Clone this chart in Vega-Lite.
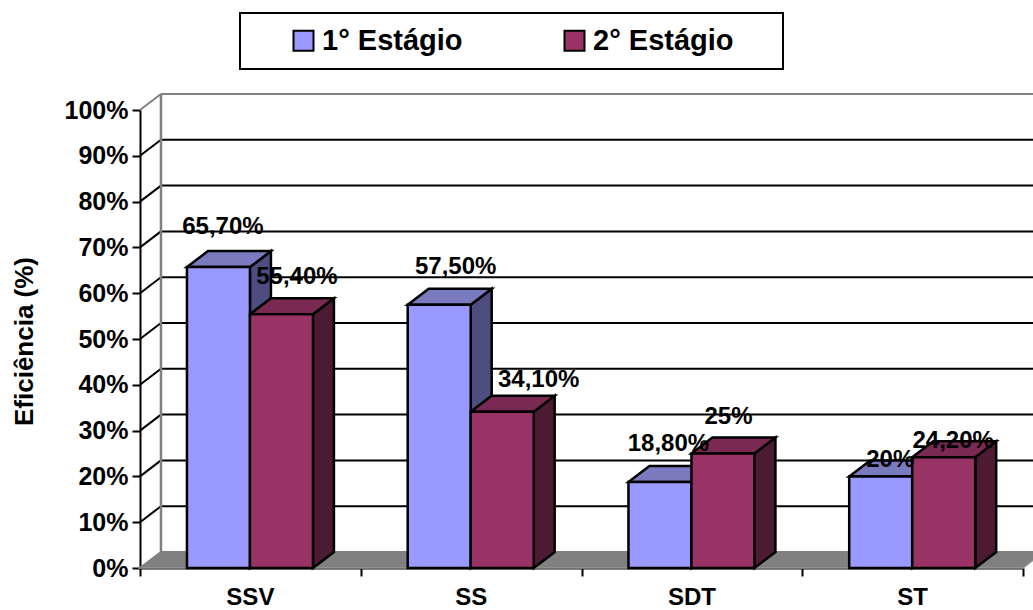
{
"$schema":"https://vega.github.io/schema/vega-lite/v6.json",
"width":883,"height":458,
"autosize":{"type":"none"},
"padding":{"left":140,"top":110,"right":10,"bottom":42},
"background":"white",
"config":{"view":{"stroke":null},"font":"Liberation Sans"},
"datasets":{
"barras":[
{"categoria":"SSV","estagio":"1° Estágio","valor":65.7,"rotulo":"65,70%"},
{"categoria":"SSV","estagio":"2° Estágio","valor":55.4,"rotulo":"55,40%"},
{"categoria":"SS","estagio":"1° Estágio","valor":57.5,"rotulo":"57,50%"},
{"categoria":"SS","estagio":"2° Estágio","valor":34.1,"rotulo":"34,10%"},
{"categoria":"SDT","estagio":"1° Estágio","valor":18.8,"rotulo":"18,80%"},
{"categoria":"SDT","estagio":"2° Estágio","valor":25,"rotulo":"25%"},
{"categoria":"ST","estagio":"1° Estágio","valor":20,"rotulo":"20%"},
{"categoria":"ST","estagio":"2° Estágio","valor":24.2,"rotulo":"24,20%"}
],
"grades":[{"v":0},{"v":10},{"v":20},{"v":30},{"v":40},{"v":50},{"v":60},{"v":70},{"v":80},{"v":90},{"v":100}]
},
"layer":[
{"data":{"name":"grades"},
 "transform":[{"filter":"datum.v==0"},{"calculate":"[0,1]","as":"d"},{"flatten":["d"]},
  {"calculate":"datum.d*0.095","as":"fx"},{"calculate":"4+datum.d*0.095","as":"fx2"},{"calculate":"datum.d*3.49","as":"fy"}],
 "mark":{"type":"area","orient":"horizontal","fill":"#808080","stroke":"#969696","strokeWidth":1.5},
 "encoding":{
  "x":{"field":"fx","type":"quantitative","scale":{"domain":[0,4],"nice":false,"zero":false}},
  "x2":{"field":"fx2"},
  "y":{"field":"fy","type":"quantitative","scale":{"domain":[0,100],"nice":false,"zero":false}}}},
{"data":{"name":"grades"},
 "transform":[{"calculate":"datum.v+3.49","as":"ny"},{"calculate":"0.095","as":"gx"},{"calculate":"4.1","as":"gx2"},{"calculate":"datum.v==0||datum.v==100?'#808080':'black'","as":"tom"}],
 "mark":{"type":"rule","strokeWidth":2},
 "encoding":{
  "x":{"field":"gx","type":"quantitative","scale":{"domain":[0,4],"nice":false,"zero":false}},
  "x2":{"field":"gx2"},
  "y":{"field":"ny","type":"quantitative","scale":{"domain":[0,100],"nice":false,"zero":false}},
  "stroke":{"field":"tom","type":"nominal","scale":null}}},
{"data":{"name":"grades"},
 "transform":[{"calculate":"datum.v+3.49","as":"ny"},{"calculate":"0","as":"gx"},{"calculate":"0.095","as":"gx2"},{"calculate":"datum.v==0||datum.v==100?'#808080':'black'","as":"tom"}],
 "mark":{"type":"rule","strokeWidth":2},
 "encoding":{
  "x":{"field":"gx","type":"quantitative","scale":{"domain":[0,4],"nice":false,"zero":false}},
  "x2":{"field":"gx2"},
  "y":{"field":"v","type":"quantitative","scale":{"domain":[0,100],"nice":false,"zero":false}},
  "y2":{"field":"ny"},
  "stroke":{"field":"tom","type":"nominal","scale":null}}},
{"data":{"name":"grades"},
 "transform":[{"filter":"datum.v==100"},{"calculate":"datum.v+3.49","as":"ny"},{"calculate":"3.49","as":"by"},{"calculate":"0.095","as":"gx"}],
 "mark":{"type":"rule","strokeWidth":2.5,"color":"#808080"},
 "encoding":{
  "x":{"field":"gx","type":"quantitative","scale":{"domain":[0,4],"nice":false,"zero":false}},
  "y":{"field":"by","type":"quantitative","scale":{"domain":[0,100],"nice":false,"zero":false}},
  "y2":{"field":"ny"}}},
{"data":{"name":"barras"},
 "transform":[
  {"calculate":"indexof(['SSV','SS','SDT','ST'],datum.categoria)","as":"pos"},
  {"calculate":"datum.estagio=='1° Estágio'?0:1","as":"serie"},
  {"calculate":"datum.pos+0.2127+(datum.serie+1)*0.2854","as":"xr"},
  {"calculate":"datum.serie==0?'#4D4D80':'#4D1A33'","as":"corLado"},
  {"calculate":"[0,1]","as":"d"},{"flatten":["d"]},
  {"calculate":"datum.xr+datum.d*0.095","as":"sx"},
  {"calculate":"datum.valor+datum.d*3.49","as":"sy"},
  {"calculate":"datum.d*3.49","as":"sb"}],
 "mark":{"type":"area","orient":"vertical","stroke":"black","strokeWidth":2.5},
 "encoding":{
  "x":{"field":"sx","type":"quantitative","scale":{"domain":[0,4],"nice":false,"zero":false}},
  "y":{"field":"sy","type":"quantitative","scale":{"domain":[0,100],"nice":false,"zero":false}},
  "y2":{"field":"sb"},
  "detail":{"field":"categoria"},
  "fill":{"field":"corLado","type":"nominal","scale":null}}},
{"data":{"name":"barras"},
 "transform":[
  {"calculate":"indexof(['SSV','SS','SDT','ST'],datum.categoria)","as":"pos"},
  {"calculate":"datum.estagio=='1° Estágio'?0:1","as":"serie"},
  {"calculate":"datum.pos+0.2127+datum.serie*0.2854","as":"xl"},
  {"calculate":"datum.serie==0?'#7A7ABF':'#7A2952'","as":"corTopo"},
  {"calculate":"[0,1]","as":"d"},{"flatten":["d"]},
  {"calculate":"datum.xl+datum.d*0.095","as":"tx"},
  {"calculate":"datum.xl+0.2854+datum.d*0.095","as":"tx2"},
  {"calculate":"datum.valor+datum.d*3.49","as":"ty"}],
 "mark":{"type":"area","orient":"horizontal","stroke":"black","strokeWidth":2.5},
 "encoding":{
  "x":{"field":"tx","type":"quantitative","scale":{"domain":[0,4],"nice":false,"zero":false}},
  "x2":{"field":"tx2"},
  "y":{"field":"ty","type":"quantitative","scale":{"domain":[0,100],"nice":false,"zero":false}},
  "detail":{"field":"categoria"},
  "fill":{"field":"corTopo","type":"nominal","scale":null}}},
{"data":{"name":"barras"},
 "transform":[
  {"calculate":"indexof(['SSV','SS','SDT','ST'],datum.categoria)","as":"pos"},
  {"calculate":"datum.estagio=='1° Estágio'?0:1","as":"serie"},
  {"calculate":"datum.pos+0.2127+datum.serie*0.2854","as":"xl"},
  {"calculate":"datum.xl+0.2854","as":"xr"},
  {"calculate":"0","as":"base"}],
 "mark":{"type":"rect","stroke":"black","strokeWidth":2.5},
 "encoding":{
  "x":{"field":"xl","type":"quantitative","scale":{"domain":[0,4],"nice":false,"zero":false},
   "axis":{"values":[0,1,2,3,4],"labels":false,"title":null,"grid":false,"tickSize":8,"tickWidth":2,"tickColor":"black","domainColor":"black","domainWidth":2}},
  "x2":{"field":"xr"},
  "y":{"field":"valor","type":"quantitative","scale":{"domain":[0,100],"nice":false,"zero":false},
   "axis":{"values":[0,10,20,30,40,50,60,70,80,90,100],"labelExpr":"datum.value+'%'","title":"Eficiência (%)","titleFont":"Liberation Sans","titleFontSize":26,"titleFontWeight":"bold","titleColor":"black","titleX":-103,"titleY":231,"grid":false,"tickSize":8,"tickWidth":2,"tickColor":"black","domainColor":"black","domainWidth":2,"labelFont":"Liberation Sans","labelFontSize":25,"labelFontWeight":"bold","labelColor":"black","labelPadding":4,"labelOverlap":false,"labelFlush":false}},
  "y2":{"field":"base"},
  "fill":{"field":"estagio","type":"nominal","scale":{"domain":["1° Estágio","2° Estágio"],"range":["#9999FF","#993366"]},
   "legend":{"orient":"none","legendX":100,"legendY":-97,"direction":"horizontal","columns":2,"title":"\u00a0","titleOrient":"right","titlePadding":36,"titleFontSize":10,"strokeColor":"black","fillColor":"white","padding":13,"symbolOffset":36,"symbolType":"square","symbolSize":400,"symbolStrokeColor":"black","symbolStrokeWidth":2,"labelFont":"Liberation Sans","labelFontSize":29,"labelFontWeight":"bold","labelColor":"black","labelOffset":4,"columnPadding":61,"labelLimit":300,"encode":{"legend":{"update":{"strokeWidth":{"value":2}}}}}}}},
{"data":{"name":"barras"},
 "transform":[{"filter":"datum.estagio=='1° Estágio'"},
  {"calculate":"indexof(['SSV','SS','SDT','ST'],datum.categoria)+0.5","as":"cx"},{"calculate":"0","as":"base"}],
 "mark":{"type":"text","font":"Liberation Sans","fontSize":24,"fontWeight":"bold","color":"black","yOffset":30,"baseline":"middle"},
 "encoding":{
  "x":{"field":"cx","type":"quantitative","scale":{"domain":[0,4],"nice":false,"zero":false}},
  "y":{"field":"base","type":"quantitative","scale":{"domain":[0,100],"nice":false,"zero":false}},
  "text":{"field":"categoria"}}},
{"data":{"name":"barras"},
 "transform":[
  {"calculate":"indexof(['SSV','SS','SDT','ST'],datum.categoria)","as":"pos"},
  {"calculate":"datum.estagio=='1° Estágio'?0:1","as":"serie"},
  {"calculate":"datum.categoria+datum.serie","as":"chave"},
  {"calculate":"datum.pos+0.2127+(datum.serie+0.5)*0.2854+({'SSV0':4.5,'SSV1':15.5,'SS0':16.5,'SS1':36.5,'SDT0':8.5,'SDT1':5.5,'ST0':9.5,'ST1':9.5}[datum.chave])/220.75","as":"lx"},
  {"calculate":"datum.valor+({'SSV0':40.5,'SSV1':37.7,'SS0':38,'SS1':31.5,'SDT0':37.7,'SDT1':37,'ST0':16,'ST1':16}[datum.chave])/4.58","as":"ly"}],
 "mark":{"type":"text","font":"Liberation Sans","fontSize":24,"fontWeight":"bold","color":"black","baseline":"middle"},
 "encoding":{
  "x":{"field":"lx","type":"quantitative","scale":{"domain":[0,4],"nice":false,"zero":false}},
  "y":{"field":"ly","type":"quantitative","scale":{"domain":[0,100],"nice":false,"zero":false}},
  "text":{"field":"rotulo"}}}
]
}
